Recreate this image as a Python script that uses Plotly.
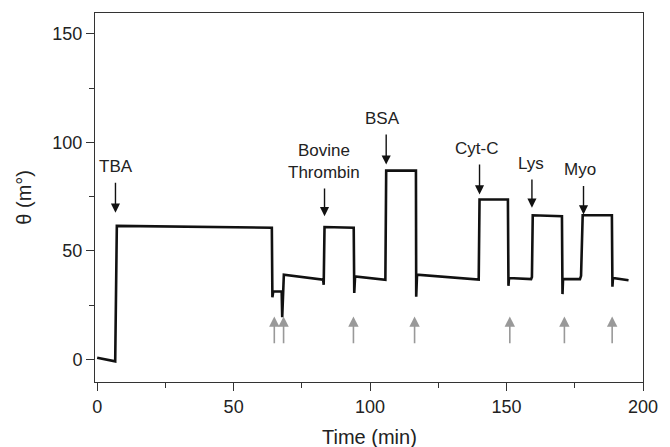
import plotly.graph_objects as go

# Trace (time in min, theta in mdeg)
time_min = [0, 6.6, 7.2, 64.0, 64.2, 64.5, 67.6, 67.8, 68.4, 82.8, 83.0, 83.3,
            94.0, 94.2, 94.5, 105.6, 105.9, 116.8, 116.9, 117.2, 139.8, 140.1,
            150.5, 150.7, 150.9, 159.0, 159.3, 159.6, 170.3, 170.5, 170.7,
            176.9, 177.3, 177.9, 188.6, 188.8, 189.0, 194.7]
theta = [0.8, -0.9, 61.5, 60.7, 28.6, 31.3, 31.3, 19.4, 39.0, 36.7, 34.4, 61.0,
         60.7, 30.6, 38.2, 36.7, 87.0, 87.0, 28.9, 39.0, 36.8, 73.7,
         73.7, 33.9, 37.5, 37.0, 38.0, 66.4, 66.0, 30.1, 37.0,
         37.0, 38.5, 66.4, 66.4, 33.5, 37.5, 36.5]

# Injection labels (black arrows)
labels = ["TBA", "Bovine<br>Thrombin", "BSA", "Cyt-C", "Lys", "Myo"]
label_t = [6.7, 83.3, 105.9, 140.1, 159.3, 178.2]
arrow_tail = [82.1, 79.4, 104.3, 90.5, 83.6, 80.6]
arrow_tip = [67.6, 66.0, 89.8, 76.0, 69.9, 66.8]
label_x = [7.0, 83.0, 104.7, 138.9, 159.0, 177.0]

# Buffer washes (gray arrows)
wash_t = [64.9, 68.3, 93.9, 116.3, 151.2, 171.2, 188.7]
wash_tail = 6.8
wash_tip = 19.8

FONT = "Liberation Sans, Arial, sans-serif"
TXT = "#222222"

fig = go.Figure()
fig.add_trace(go.Scatter(x=time_min, y=theta, mode="lines",
                         line=dict(color="#111111", width=2.6), showlegend=False))

for lab, t, tail, tip, lx in zip(labels, label_t, arrow_tail, arrow_tip, label_x):
    fig.add_annotation(x=t, y=tip, ax=t, ay=tail, xref="x", yref="y",
                       axref="x", ayref="y", text="", showarrow=True,
                       arrowhead=2, arrowsize=1.3, arrowwidth=1.4, arrowcolor="#111111")
    fig.add_annotation(x=lx, y=tail + 1.5, xref="x", yref="y", text=lab,
                       showarrow=False, yanchor="bottom", xanchor="center",
                       font=dict(size=17, color=TXT))

for t in wash_t:
    fig.add_annotation(x=t, y=wash_tip, ax=t, ay=wash_tail, xref="x", yref="y",
                       axref="x", ayref="y", text="", showarrow=True,
                       arrowhead=2, arrowsize=1.3, arrowwidth=1.6, arrowcolor="#999999")

# axis titles
fig.add_annotation(x=0.5, y=-0.15, xref="paper", yref="paper", text="Time (min)",
                   showarrow=False, xanchor="center", yanchor="middle",
                   font=dict(size=20, color=TXT))
fig.add_annotation(x=-0.131, y=0.5, xref="paper", yref="paper", text="θ (m°)",
                   showarrow=False, xanchor="center", yanchor="middle", textangle=-90,
                   font=dict(size=20, color=TXT))

axis_common = dict(showline=True, linecolor="#333333", linewidth=1, mirror=True,
                   ticks="outside", ticklen=8, tickcolor="#333333", showgrid=False,
                   zeroline=False, tickfont=dict(size=18, color=TXT))

fig.update_xaxes(range=[-0.8, 200], dtick=50, tick0=0,
                 minor=dict(ticks="outside", ticklen=5, dtick=25, tickcolor="#333333"),
                 **axis_common)
fig.update_yaxes(range=[-10.4, 159.6], dtick=50, tick0=0,
                 minor=dict(ticks="outside", ticklen=5, dtick=25, tickcolor="#333333"),
                 **axis_common)

fig.update_layout(width=670, height=447, margin=dict(l=95, r=17, t=12, b=65),
                  plot_bgcolor="white", paper_bgcolor="white",
                  font=dict(family=FONT))

fig.write_html("out.html")
